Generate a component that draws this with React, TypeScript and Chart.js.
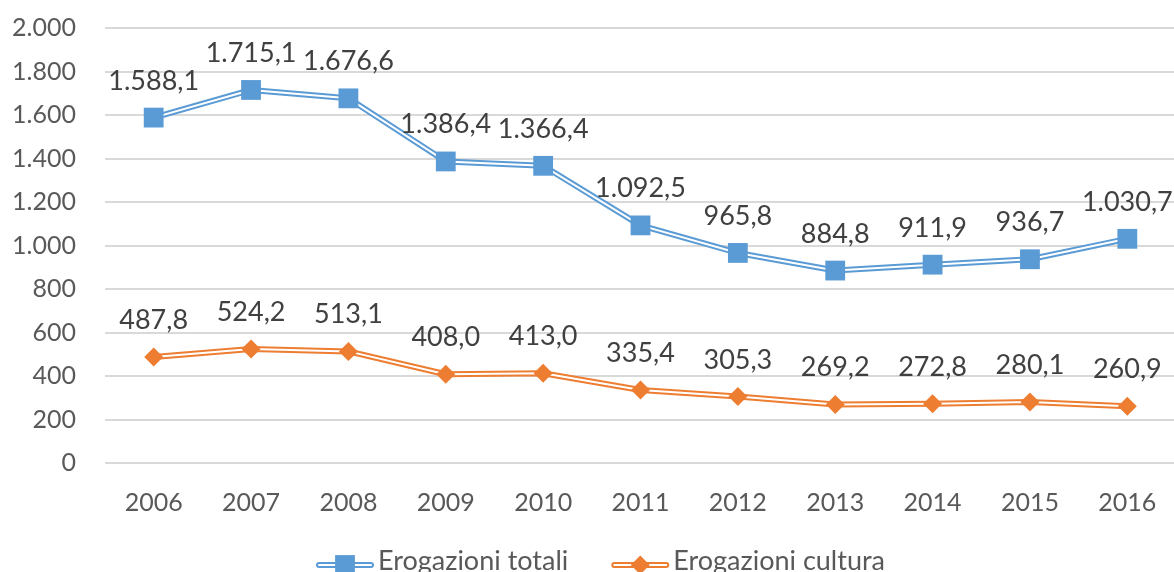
import { useEffect, useRef } from "react";
import { Chart, registerables } from "chart.js";

Chart.register(...registerables);

const years = ["2006", "2007", "2008", "2009", "2010", "2011", "2012", "2013", "2014", "2015", "2016"];
const erogazioniTotali = [1588.1, 1715.1, 1676.6, 1386.4, 1366.4, 1092.5, 965.8, 884.8, 911.9, 936.7, 1030.7];
const erogazioniCultura = [487.8, 524.2, 513.1, 408.0, 413.0, 335.4, 305.3, 269.2, 272.8, 280.1, 260.9];
const seriesNames = ["Erogazioni totali", "Erogazioni cultura"];
const yMin = 0;
const yMax = 2000;
const yStep = 200;

const BLUE = "#5B9BD5";
const ORANGE = "#ED7D31";
const FONT = "Lato, 'Open Sans', sans-serif";
const FONT_SIZE = 25;

function fmt(n: number, decimals: number): string {
  const fixed = n.toFixed(decimals);
  const [intPart, dec] = fixed.split(".");
  const withSep = intPart.replace(/\B(?=(\d{3})+(?!\d))/g, ".");
  return dec ? withSep + "," + dec : withSep;
}

const seriesDefs = [
  { name: seriesNames[0], data: erogazioniTotali, color: BLUE, marker: "rect", radius: 14 },
  { name: seriesNames[1], data: erogazioniCultura, color: ORANGE, marker: "rectRot", radius: 9.5 },
];

function drawMarker(ctx: CanvasRenderingContext2D, kind: string, x: number, y: number, r: number, color: string) {
  ctx.fillStyle = color;
  ctx.beginPath();
  if (kind === "rect") {
    const s = Math.SQRT1_2 * r;
    ctx.rect(x - s, y - s, 2 * s, 2 * s);
  } else {
    ctx.moveTo(x, y - r);
    ctx.lineTo(x + r, y);
    ctx.lineTo(x, y + r);
    ctx.lineTo(x - r, y);
    ctx.closePath();
  }
  ctx.fill();
}

const dataLabelPlugin = {
  id: "dataLabels",
  afterDatasetsDraw(chart: any) {
    const ctx = chart.ctx as CanvasRenderingContext2D;
    ctx.save();
    ctx.font = `${FONT_SIZE + 2}px ${FONT}`;
    ctx.fillStyle = "#404040";
    ctx.textAlign = "center";
    ctx.textBaseline = "alphabetic";
    chart.data.datasets.forEach((ds: any, i: number) => {
      if (!ds.isMarker) return;
      const meta = chart.getDatasetMeta(i);
      meta.data.forEach((pt: any, j: number) => {
        ctx.fillText(fmt(ds.data[j], 1), pt.x, pt.y - 28);
      });
    });
    ctx.restore();
  },
};

const legendPlugin = {
  id: "customLegend",
  afterDraw(chart: any) {
    const ctx = chart.ctx as CanvasRenderingContext2D;
    ctx.save();
    ctx.font = `${FONT_SIZE + 2}px ${FONT}`;
    ctx.textBaseline = "alphabetic";
    ctx.textAlign = "left";
    let x = 316;
    const y = 565;
    seriesDefs.forEach((s) => {
      ctx.lineCap = "round";
      ctx.strokeStyle = s.color;
      ctx.lineWidth = 6;
      ctx.beginPath();
      ctx.moveTo(x + 3, y);
      ctx.lineTo(x + 55, y);
      ctx.stroke();
      ctx.strokeStyle = "#ffffff";
      ctx.lineWidth = 2;
      ctx.beginPath();
      ctx.moveTo(x + 3, y);
      ctx.lineTo(x + 55, y);
      ctx.stroke();
      drawMarker(ctx, s.marker, x + 29, y, s.radius, s.color);
      ctx.fillStyle = "#595959";
      ctx.fillText(s.name, x + 62, y + 5);
      x += 62 + ctx.measureText(s.name).width + 43;
    });
    ctx.restore();
  },
};

export default function App() {
  const canvasRef = useRef<HTMLCanvasElement | null>(null);

  useEffect(() => {
    if (!canvasRef.current) return;
    const datasets: any[] = [];
    seriesDefs.forEach((s, k) => {
      datasets.push({
        label: s.name,
        data: s.data,
        borderColor: s.color,
        borderWidth: 6,
        pointRadius: 0,
        fill: false,
        tension: 0,
        borderJoinStyle: "round",
        borderCapStyle: "round",
        order: 20 + k,
      });
      datasets.push({
        label: s.name + " gap",
        data: s.data,
        borderColor: "#ffffff",
        borderWidth: 2,
        pointRadius: 0,
        fill: false,
        tension: 0,
        borderJoinStyle: "round",
        order: 10 + k,
      });
      datasets.push({
        label: s.name + " markers",
        data: s.data,
        showLine: false,
        pointStyle: s.marker,
        pointRadius: s.radius,
        pointBackgroundColor: s.color,
        pointBorderColor: s.color,
        pointBorderWidth: 0,
        isMarker: true,
        order: 1 + k,
      });
    });

    Chart.defaults.font.family = FONT;
    const chart = new Chart(canvasRef.current, {
      type: "line",
      data: { labels: years, datasets },
      options: {
        animation: false,
        responsive: false,
        devicePixelRatio: 1,
        layout: { padding: { top: 28, right: 13, bottom: 0, left: 0 } },
        plugins: { legend: { display: false }, tooltip: { enabled: false } },
        scales: {
          x: {
            offset: true,
            grid: { display: false, drawTicks: false, offset: true },
            border: { display: false },
            ticks: { color: "#595959", font: { size: FONT_SIZE, family: FONT }, padding: 25 },
            afterFit: (scale: any) => {
              scale.height = 109;
              scale.paddingLeft = 0;
              scale.paddingRight = 0;
            },
          },
          y: {
            min: yMin,
            max: yMax,
            grid: { color: "#d9d9d9", lineWidth: 2, drawTicks: false },
            border: { display: false },
            ticks: {
              stepSize: yStep,
              color: "#595959",
              font: { size: FONT_SIZE, family: FONT },
              padding: 29,
              callback: (v: any) => fmt(Number(v), 0),
            },
            afterFit: (scale: any) => {
              scale.width = 105;
              scale.paddingTop = 0;
              scale.paddingBottom = 0;
            },
          },
        },
      } as any,
      plugins: [dataLabelPlugin, legendPlugin],
    });
    return () => chart.destroy();
  }, []);

  return (
    <div style={{ position: "fixed", left: 0, top: 0, width: 1174, height: 572, overflow: "hidden", background: "#fff" }}>
      <canvas ref={canvasRef} width={1190} height={572} style={{ display: "block" }} />
    </div>
  );
}
